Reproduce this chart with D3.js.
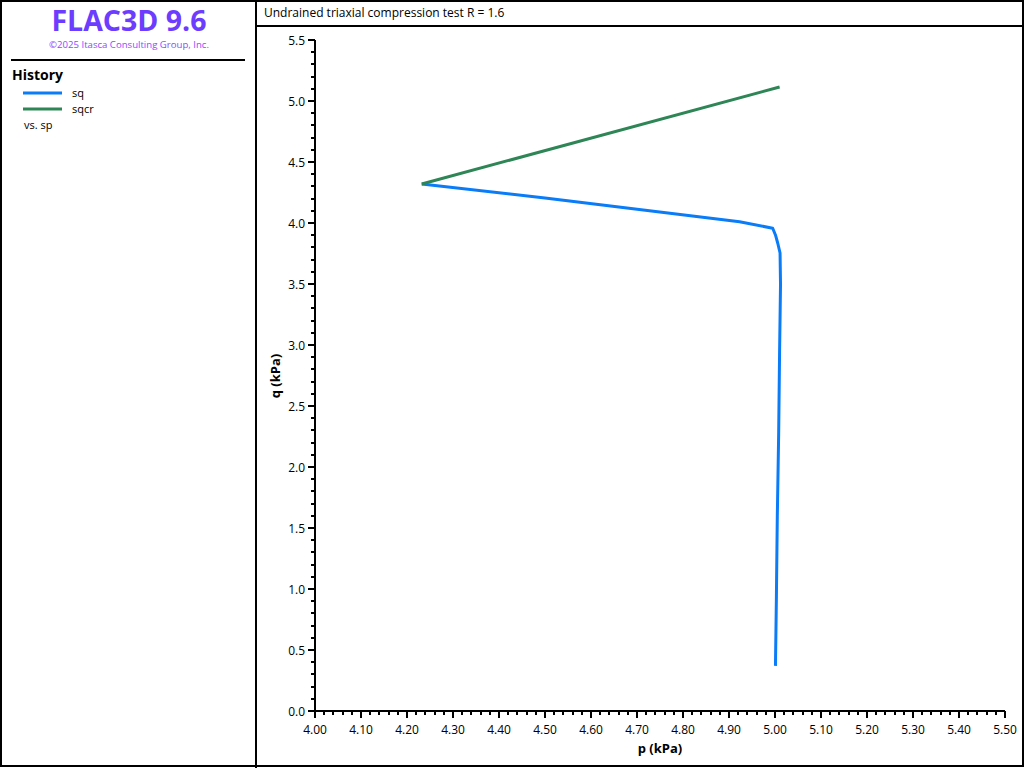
<!DOCTYPE html>
<html><head><meta charset="utf-8">
<script src="https://cdn.jsdelivr.net/npm/d3@7"></script>
<style>body{margin:0;background:#fff}svg{display:block}text{font-family:"Open Sans","Noto Sans",sans-serif}</style>
</head><body>
<svg id="c" width="1024" height="768"></svg>
<script>
const chartTitle = "Undrained triaxial compression test R = 1.6";
const seriesNames = ["sq", "sqcr"];
const seriesColors = ["#0a7cf7", "#2e8555"];
const sqP = [5.001, 5.003, 5.005, 5.008, 5.010, 5.012, 5.011, 5.006, 5.001, 4.995, 4.923, 4.500, 4.232];
const sqQ = [0.37, 0.92, 1.59, 2.28, 2.95, 3.50, 3.754, 3.834, 3.902, 3.957, 4.011, 4.205, 4.320];
const sqcrP = [4.232, 5.010];
const sqcrQ = [4.320, 5.115];
const xTicks = [4.0,4.1,4.2,4.3,4.4,4.5,4.6,4.7,4.8,4.9,5.0,5.1,5.2,5.3,5.4,5.5];
const yTicks = [0.0,0.5,1.0,1.5,2.0,2.5,3.0,3.5,4.0,4.5,5.0,5.5];

const svg = d3.select("#c");
// frames
svg.append("rect").attr("x",1).attr("y",1).attr("width",1022).attr("height",765).attr("fill","none").attr("stroke","#000").attr("stroke-width",2);
svg.append("line").attr("x1",256).attr("x2",256).attr("y1",0).attr("y2",768).attr("stroke","#000").attr("stroke-width",2);
svg.append("line").attr("x1",256).attr("x2",1024).attr("y1",26).attr("y2",26).attr("stroke","#000").attr("stroke-width",2);

// left panel
svg.append("text").attr("x",129).attr("y",31).attr("text-anchor","middle").attr("font-size",28.5).attr("font-weight","bold").attr("fill","#6c3cff").text("FLAC3D 9.6");
svg.append("text").attr("x",129).attr("y",48).attr("text-anchor","middle").attr("font-size",9.6).attr("fill","#8a4cff").text("©2025 Itasca Consulting Group, Inc.");
svg.append("line").attr("x1",11).attr("x2",245).attr("y1",60).attr("y2",60).attr("stroke","#000").attr("stroke-width",2);
svg.append("text").attr("x",12).attr("y",80).attr("font-size",14).attr("font-weight","bold").attr("fill","#000").text("History");
seriesNames.forEach((n,i)=>{
  const y = 93 + i*16;
  svg.append("line").attr("x1",23).attr("x2",62).attr("y1",y).attr("y2",y).attr("stroke",seriesColors[i]).attr("stroke-width",3);
  svg.append("text").attr("x",72).attr("y",y+4).attr("font-size",11).attr("fill","#000").text(n);
});
svg.append("text").attr("x",24).attr("y",129).attr("font-size",11).attr("fill","#000").text("vs. sp");

// title
svg.append("text").attr("x",264).attr("y",17).attr("font-size",12).attr("fill","#000").text(chartTitle);

// scales
const x = d3.scaleLinear().domain([4.0,5.5]).range([315,1005]);
const y = d3.scaleLinear().domain([0,5.5]).range([711,40]);

// x axis
const gx = svg.append("g");
gx.append("line").attr("x1",x(4.0)).attr("x2",x(5.5)).attr("y1",y(0)).attr("y2",y(0)).attr("stroke","#000").attr("stroke-width",2);
d3.range(0,76).forEach(k=>{
  const v = 4.0 + k*0.02;
  const major = k%5===0;
  gx.append("line").attr("x1",Math.round(x(v))).attr("x2",Math.round(x(v))).attr("y1",y(0)).attr("y2",y(0)+(major?7:4)).attr("stroke","#000").attr("stroke-width",2);
});
xTicks.forEach(v=>{
  gx.append("text").attr("x",x(v)).attr("y",734).attr("text-anchor","middle").attr("font-size",12).attr("fill","#000").text(v.toFixed(2));
});
svg.append("text").attr("x",660).attr("y",753).attr("text-anchor","middle").attr("font-size",13).attr("font-weight","bold").attr("fill","#000").text("p (kPa)");

// y axis
const gy = svg.append("g");
gy.append("line").attr("x1",x(4.0)).attr("x2",x(4.0)).attr("y1",y(0)).attr("y2",y(5.5)).attr("stroke","#000").attr("stroke-width",2);
d3.range(0,56).forEach(k=>{
  const v = k*0.1;
  const major = k%5===0;
  gy.append("line").attr("x1",x(4.0)).attr("x2",x(4.0)-(major?7:4)).attr("y1",Math.round(y(v))).attr("y2",Math.round(y(v))).attr("stroke","#000").attr("stroke-width",2);
});
yTicks.forEach(v=>{
  gy.append("text").attr("x",305).attr("y",y(v)+4.5).attr("text-anchor","end").attr("font-size",12).attr("fill","#000").text(v.toFixed(1));
});
svg.append("text").attr("transform","translate(280,376) rotate(-90)").attr("text-anchor","middle").attr("font-size",13).attr("font-weight","bold").attr("fill","#000").text("q (kPa)");

// lines
const line = d3.line().x(d=>x(d[0])).y(d=>y(d[1]));
svg.append("path").datum(sqP.map((p,i)=>[p,sqQ[i]])).attr("d",line).attr("fill","none").attr("stroke",seriesColors[0]).attr("stroke-width",3).attr("stroke-linejoin","round");
svg.append("path").datum(sqcrP.map((p,i)=>[p,sqcrQ[i]])).attr("d",line).attr("fill","none").attr("stroke",seriesColors[1]).attr("stroke-width",3).attr("stroke-linejoin","round");
</script>
</body></html>
